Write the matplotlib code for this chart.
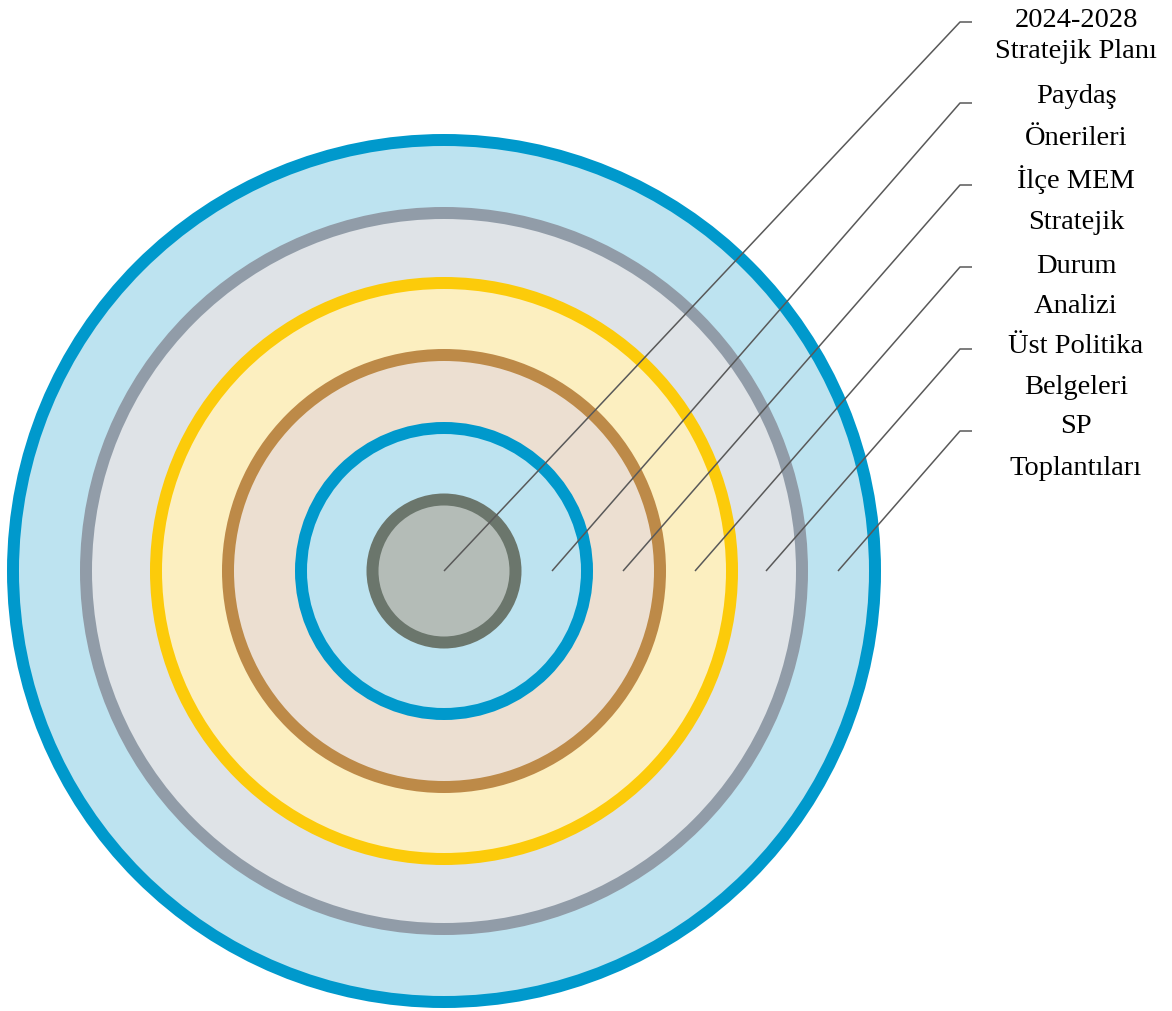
import matplotlib.pyplot as plt
from matplotlib.patches import Circle

# rings from outside to inside: outer radius (px), ring colour, fill colour
ring_radius = [437, 364, 294, 222, 149, 77.5]
ring_color = ['#0099cc', '#919ca8', '#fccb0a', '#bd8a48', '#0099cc', '#6b766c']
fill_color = ['#bde3f0', '#dfe3e7', '#fcefc0', '#ecdfd1', '#bde3f0', '#b4bcb7']
ring_width = 12

# labels (top to bottom), two lines each
label_line1 = ['2024-2028', 'Paydaş', 'İlçe MEM', 'Durum', 'Üst Politika', 'SP']
label_line2 = ['Stratejik Planı', 'Önerileri', 'Stratejik', 'Analizi', 'Belgeleri', 'Toplantıları']

cx, cy = 444, 571
start_x = [444, 552, 623, 695, 766, 838]
end_y = [22, 103, 185, 267, 349, 431]
# text baselines (px from top)
line1_y = [27, 103, 188, 273, 353, 433]
line2_y = [58, 145, 229, 313, 394, 475]

fig = plt.figure(figsize=(11.72, 10.11), dpi=100)
ax = fig.add_axes([0, 0, 1, 1])
ax.set_xlim(0, 1172)
ax.set_ylim(1011, 0)
ax.set_aspect('equal')
ax.axis('off')

for r, rc, fc in zip(ring_radius, ring_color, fill_color):
    ax.add_patch(Circle((cx, cy), r, color=rc, lw=0))
    ax.add_patch(Circle((cx, cy), r - ring_width, color=fc, lw=0))

for sx, ey in zip(start_x, end_y):
    ax.plot([sx, 960, 972], [cy, ey, ey], color='#595959', lw=1.1, solid_capstyle='butt')

for t1, t2, y1, y2 in zip(label_line1, label_line2, line1_y, line2_y):
    ax.text(1076, y1, t1, ha='center', va='baseline', fontsize=20.5,
            family='Liberation Serif', color='black')
    ax.text(1076, y2, t2, ha='center', va='baseline', fontsize=20.5,
            family='Liberation Serif', color='black')

fig.savefig('out.png', dpi=100)
